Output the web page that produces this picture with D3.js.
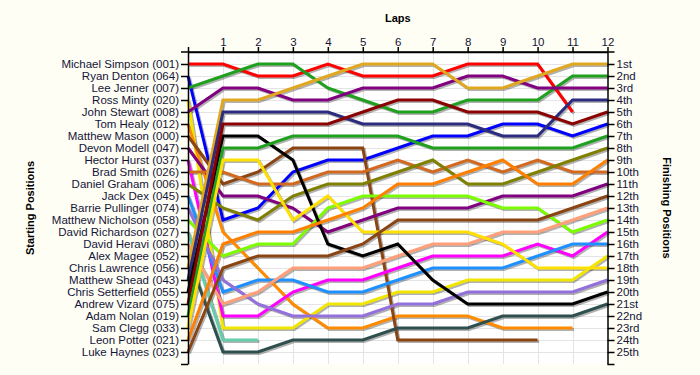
<!DOCTYPE html>
<html>
<head>
<meta charset="utf-8">
<script src="https://cdn.jsdelivr.net/npm/d3@7/dist/d3.min.js"></script>
<style>
  body { margin: 0; background: #fefef4; }
  svg { display: block; font-family: Arial, "Liberation Sans", sans-serif; }
</style>
</head>
<body>
<div id="chart"></div>
<script>
// starting grid, top to bottom
var drivers = [
    'Michael Simpson (001)', 'Ryan Denton (064)', 'Lee Jenner (007)', 'Ross Minty (020)',
    'John Stewart (008)', 'Tom Healy (012)', 'Matthew Mason (000)', 'Devon Modell (047)',
    'Hector Hurst (037)', 'Brad Smith (026)', 'Daniel Graham (006)', 'Jack Dex (045)',
    'Barrie Pullinger (074)', 'Matthew Nicholson (058)', 'David Richardson (027)', 'David Heravi (080)',
    'Alex Magee (052)', 'Chris Lawrence (056)', 'Matthew Shead (043)', 'Chris Setterfield (055)',
    'Andrew Vizard (075)', 'Adam Nolan (019)', 'Sam Clegg (033)', 'Leon Potter (021)',
    'Luke Haynes (023)'
];

var colours = [
    '#ff0000', '#0000ff', '#1fa01f', '#f2e600',
    '#800080', '#ff8c00', '#8b4513', '#800080',
    '#ff00ff', '#d2691e', '#808000', '#1e90ff',
    '#9370db', '#7cfc00', '#66cdaa', '#ffa07a',
    '#2f4f4f', '#e0a820', '#2b2b80', '#000000',
    '#8b0000', '#1fa01f', '#ffe000', '#ff8000',
    '#8b4513'
];

// position at lap 0..12 (list stops when the driver retired)
var lapPositions = [
    [1, 1, 2, 2, 1, 2, 2, 2, 1, 1, 1, 5],
    [2, 14, 13, 10, 9, 9, 8, 7, 7, 6, 6, 7, 6],
    [3, 2, 1, 1, 3, 4, 5, 5, 4, 4, 4, 2, 2],
    [4, 23, 23, 23, 21, 21, 20, 20, 19, 19, 19, 19, 17],
    [5, 3, 3, 4, 4, 3, 3, 3, 2, 2, 3, 3, 3],
    [6, 15, 18, 21, 23, 23, 22, 22, 22, 23, 23, 23],
    [7, 11, 10, 8, 8, 8, 24, 24, 24, 24, 24],
    [8, 12, 12, 13, 15, 14, 13, 13, 13, 12, 12, 12, 11],
    [9, 22, 22, 20, 19, 19, 18, 17, 17, 17, 16, 17, 15],
    [10, 10, 11, 11, 10, 10, 9, 10, 9, 10, 9, 10, 10],
    [11, 13, 14, 12, 11, 11, 10, 9, 11, 11, 10, 9, 8],
    [12, 20, 19, 19, 20, 20, 19, 18, 18, 18, 17, 16, 16],
    [13, 19, 21, 22, 22, 22, 21, 21, 20, 20, 20, 20, 19],
    [14, 17, 16, 16, 13, 12, 12, 12, 12, 13, 13, 15, 14],
    [15, 24, 24],
    [16, 21, 20, 18, 18, 18, 17, 16, 16, 15, 15, 14, 13],
    [17, 25, 25, 24, 24, 24, 23, 23, 23, 22, 22, 22, 21],
    [18, 4, 4, 3, 2, 1, 1, 1, 3, 3, 2, 1, 1],
    [19, 5, 5, 5, 5, 6, 6, 6, 6, 7, 7, 4, 4],
    [20, 7, 7, 9, 16, 17, 16, 19, 21, 21, 21, 21, 20],
    [21, 6, 6, 6, 6, 5, 4, 4, 5, 5, 5, 6, 5],
    [22, 8, 8, 7, 7, 7, 7, 8, 8, 8, 8, 8, 7],
    [23, 9, 9, 14, 12, 15, 15, 15, 15, 16, 18, 18, 18],
    [24, 16, 15, 15, 14, 13, 11, 11, 10, 9, 11, 11, 9],
    [25, 18, 17, 17, 17, 16, 14, 14, 14, 14, 14, 13, 12]
];

var laps = d3.range(0, 13);
var finishLabels = ['1st', '2nd', '3rd', '4th', '5th', '6th', '7th', '8th', '9th', '10th',
    '11th', '12th', '13th', '14th', '15th', '16th', '17th', '18th', '19th', '20th',
    '21st', '22nd', '23rd', '24th', '25th'];

var chart_width  = 700;
var chart_height = 375;
var text_colour  = '#15153a';

var svg = d3.select('#chart')
    .append('svg')
    .attr('width', chart_width)
    .attr('height', chart_height);

var x_scale = d3.scaleLinear().domain([0, 12]).range([188, 607.5]);
var y_scale = d3.scaleLinear().domain([0, 26]).range([52, 364]);

// plot background
svg.append('rect')
    .attr('x', x_scale(0))
    .attr('y', y_scale(0))
    .attr('width', x_scale(12) - x_scale(0))
    .attr('height', y_scale(26) - y_scale(0))
    .attr('fill', '#ffffff');

// grid
var grid = svg.append('g').attr('stroke', '#e4e4e4').attr('stroke-width', 1);
grid.selectAll('.vg')
    .data(laps.slice(1, 12))
    .enter()
    .append('line')
    .attr('x1', function(d){ return Math.round(x_scale(d)) + 0.5; })
    .attr('x2', function(d){ return Math.round(x_scale(d)) + 0.5; })
    .attr('y1', y_scale(0))
    .attr('y2', y_scale(26));
grid.selectAll('.hg')
    .data(d3.range(1, 26))
    .enter()
    .append('line')
    .attr('x1', x_scale(0))
    .attr('x2', x_scale(12))
    .attr('y1', function(d){ return Math.round(y_scale(d)) + 0.5; })
    .attr('y2', function(d){ return Math.round(y_scale(d)) + 0.5; });

// series
var line = d3.line()
    .x(function(d, i){ return x_scale(i); })
    .y(function(d){ return y_scale(d); });

svg.append('g')
    .selectAll('path')
    .data(lapPositions)
    .enter()
    .append('path')
    .attr('d', line)
    .attr('fill', 'none')
    .attr('stroke', '#000')
    .attr('stroke-opacity', 0.3)
    .attr('stroke-width', 3)
    .attr('transform', 'translate(1.5,1.5)');

svg.append('g')
    .selectAll('path')
    .data(lapPositions)
    .enter()
    .append('path')
    .attr('d', line)
    .attr('fill', 'none')
    .attr('stroke', function(d, i){ return colours[i]; })
    .attr('stroke-width', 3);

// axes
var top_axis = d3.axisTop(x_scale)
    .tickValues(laps)
    .tickSize(5)
    .tickSizeOuter(0)
    .tickFormat(function(d){ return d === 0 ? '' : d; });

var left_axis = d3.axisLeft(y_scale)
    .tickValues(d3.range(1, 27))
    .tickSize(7)
    .tickSizeOuter(0)
    .tickFormat(function(d){ return drivers[d - 1] || ''; });

var right_axis = d3.axisRight(y_scale)
    .tickValues(d3.range(1, 27))
    .tickSize(7)
    .tickSizeOuter(0)
    .tickFormat(function(d){ return finishLabels[d - 1] || ''; });

function style_axis(g){
    g.selectAll('path').attr('stroke', '#000').attr('stroke-width', 1.5);
    g.selectAll('line').attr('stroke', '#000').attr('stroke-width', 1.5);
    g.selectAll('text')
        .attr('fill', text_colour)
        .attr('font-size', 11.5)
        .attr('font-family', 'Arial, "Liberation Sans", sans-serif');
}

svg.append('g')
    .attr('transform', 'translate(' + x_scale(0) + ',0)')
    .call(left_axis)
    .call(style_axis)
    .selectAll('text').attr('x', -9);

svg.append('g')
    .attr('transform', 'translate(' + x_scale(12) + ',0)')
    .call(right_axis)
    .call(style_axis)
    .selectAll('text').attr('x', 9);

svg.append('g')
    .attr('transform', 'translate(0,' + y_scale(0) + ')')
    .call(top_axis)
    .call(style_axis)
    .selectAll('text').attr('y', -6.5);

// top axis line runs over the side ticks
svg.append('line')
    .attr('x1', x_scale(0) - 7)
    .attr('x2', x_scale(12) + 7)
    .attr('y1', y_scale(0))
    .attr('y2', y_scale(0))
    .attr('stroke', '#000')
    .attr('stroke-width', 1.5);

// titles
svg.append('text')
    .text('Laps')
    .attr('x', (x_scale(0) + x_scale(12)) / 2)
    .attr('y', 22)
    .attr('text-anchor', 'middle')
    .attr('font-size', 11)
    .attr('font-weight', 'bold')
    .attr('fill', '#000');

svg.append('text')
    .text('Starting Positions')
    .attr('transform', 'translate(34,' + 208 + ') rotate(-90)')
    .attr('text-anchor', 'middle')
    .attr('font-size', 11)
    .attr('font-weight', 'bold')
    .attr('fill', '#000');

svg.append('text')
    .text('Finishing Positions')
    .attr('transform', 'translate(663,' + 208 + ') rotate(90)')
    .attr('text-anchor', 'middle')
    .attr('font-size', 11)
    .attr('font-weight', 'bold')
    .attr('fill', '#000');
</script>
</body>
</html>
